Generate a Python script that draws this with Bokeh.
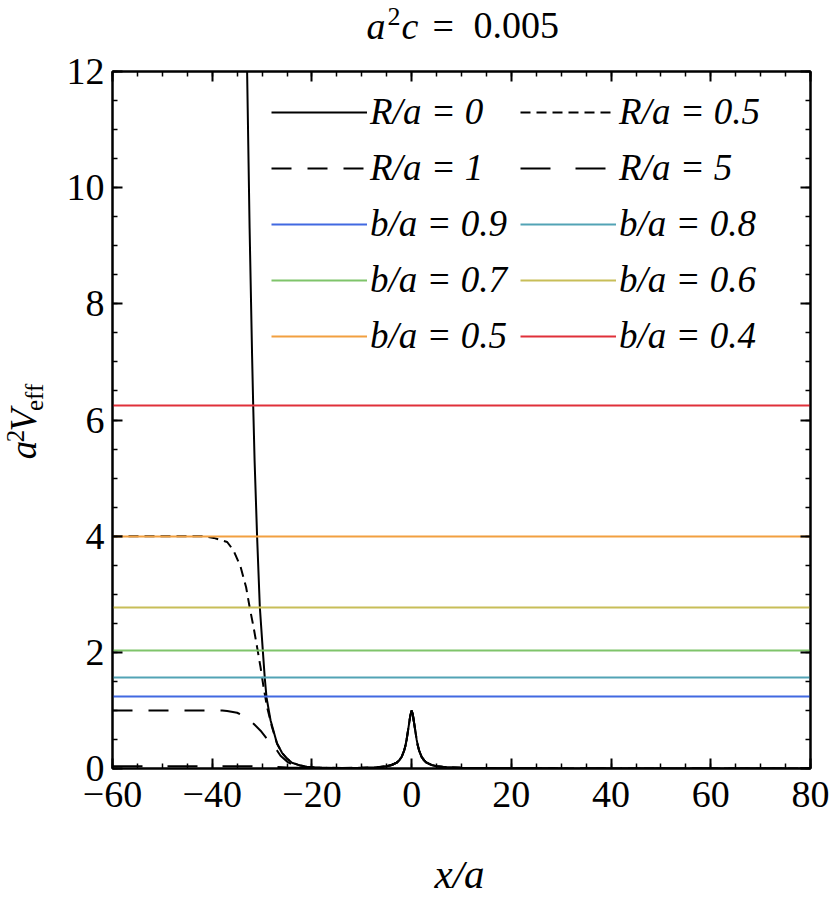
from math import pi
from bokeh.plotting import figure
from bokeh.models import Range1d, LinearAxis, SingleIntervalTicker
from bokeh.layouts import column, row
from bokeh.core.properties import value
from bokeh.embed import file_html
from bokeh.resources import INLINE

# ---------------- data ----------------
X_RANGE = (-60, 80)
Y_RANGE = (0, 12)
x_ticks = [-60, -40, -20, 0, 20, 40, 60, 80]
x_tick_labels = ["\u221260", "\u221240", "\u221220", "0", "20", "40", "60", "80"]
y_ticks = [0, 2, 4, 6, 8, 10, 12]
y_tick_labels = ["0", "2", "4", "6", "8", "10", "12"]

# shared central part (peak at x = 0 and right tail)
core_x = [-18, -14, -10, -7, -5, -4, -3, -2.5, -2, -1.5, -1.25, -1, -0.75, -0.5, -0.25, 0,
          0.25, 0.5, 0.75, 1, 1.25, 1.5, 2, 2.5, 3, 4, 5, 7, 10, 14, 20, 30, 50, 80]
core_v = [0.012, 0.01, 0.012, 0.02, 0.04, 0.06, 0.1, 0.14, 0.2, 0.31, 0.39, 0.5, 0.64, 0.78, 0.92, 1.0,
          0.92, 0.78, 0.64, 0.5, 0.39, 0.31, 0.2, 0.14, 0.1, 0.06, 0.04, 0.02, 0.012, 0.008, 0.004, 0.002, 0.0, 0.0]

# left wall of each curve
r0_x = [-33.0, -32.5, -32.0, -31.78, -31.5, -31.0, -30.45, -29.85, -29.45, -29.1, -28.3,
        -27.0, -26.0, -25.0, -24.0, -22.3, -21.0, -19.5]
r0_v = [12.0, 9.3, 7.1, 6.25, 5.3, 4.0, 2.78, 2.03, 1.55, 1.22, 0.83,
        0.43, 0.27, 0.17, 0.1, 0.05, 0.03, 0.018]

r05_x = [-60, -42, -39.7, -37.0, -35.7, -34.3, -33.2, -32.5, -31.7, -31.0, -30.3, -29.7,
         -29.0, -28.0, -27.0, -26.0, -25.0, -24.0, -22.3, -21.0, -19.5]
r05_v = [4.0, 4.0, 3.97, 3.9, 3.75, 3.47, 3.12, 2.78, 2.43, 2.09, 1.74, 1.4,
         1.06, 0.71, 0.43, 0.27, 0.17, 0.1, 0.05, 0.03, 0.018]

r1_x = [-60, -38, -37.0, -35.0, -33.0, -31.7, -30.3, -29.0, -27.9, -27.0, -26.3, -25.0,
        -24.0, -22.3, -21.0, -19.5]
r1_v = [1.0, 1.0, 0.99, 0.96, 0.87, 0.77, 0.65, 0.51, 0.4, 0.31, 0.22, 0.12,
        0.07, 0.04, 0.025, 0.015]

r5_x = [-60, -32, -29, -27, -25, -23, -21]
r5_v = [0.04, 0.04, 0.036, 0.026, 0.016, 0.012, 0.012]

R_labels = ["R/a = 0", "R/a = 0.5", "R/a = 1", "R/a = 5"]
R_dashes = ["solid", "10 6", "20 16", "30 25"]

b_labels = ["b/a = 0.9", "b/a = 0.8", "b/a = 0.7", "b/a = 0.6", "b/a = 0.5", "b/a = 0.4"]
b_levels = [1.235, 1.5625, 2.04, 2.78, 4.0, 6.25]
b_colors = ["#4169E1", "#52A3B5", "#7FC46A", "#C8BE58", "#F2A040", "#E0303A"]

SERIF = "Liberation Serif"

# ---------------- page layout (pixels) ----------------
PAGE_W = 830
TITLE_H = 46                      # page y 0..46
YLAB_W = 58
MAIN_H = 780                      # 25 + 697 + 58  -> page y 46..826
XLAB_H = 78                       # page y 826..904

# ---------------- main figure ----------------
p = figure(frame_width=698, frame_height=697,
           x_range=Range1d(*X_RANGE), y_range=Range1d(*Y_RANGE),
           output_backend="svg", toolbar_location=None,
           min_border_left=54, min_border_right=20,
           min_border_top=25, min_border_bottom=58)
p.xgrid.visible = False
p.ygrid.visible = False
p.outline_line_color = "black"
p.outline_line_width = 2
p.background_fill_color = "white"
p.border_fill_color = "white"


def style_axis(ax, show_labels):
    ax.major_tick_in = 10
    ax.major_tick_out = 0
    ax.minor_tick_in = 5
    ax.minor_tick_out = 0
    ax.axis_line_width = 2
    ax.axis_line_color = "black"
    ax.major_tick_line_width = 2
    ax.minor_tick_line_width = 1.5
    ax.major_tick_line_color = "black"
    ax.minor_tick_line_color = "black"
    ax.major_label_text_font = SERIF
    if show_labels:
        ax.major_label_text_font_size = "38px"
        ax.major_label_text_color = "black"
    else:
        ax.major_label_text_color = None
        ax.major_label_text_font_size = "1px"
        ax.major_label_standoff = 0


p.xaxis[0].ticker = SingleIntervalTicker(interval=20, num_minor_ticks=4)
p.yaxis[0].ticker = SingleIntervalTicker(interval=2, num_minor_ticks=4)
style_axis(p.xaxis[0], True)
style_axis(p.yaxis[0], True)
p.xaxis[0].major_label_overrides = {float(k): v for k, v in zip(x_ticks, x_tick_labels)}
p.yaxis[0].major_label_overrides = {float(k): v for k, v in zip(y_ticks, y_tick_labels)}
p.xaxis[0].major_label_standoff = 13
p.yaxis[0].major_label_standoff = 8

top_ax = LinearAxis(ticker=SingleIntervalTicker(interval=20, num_minor_ticks=4))
right_ax = LinearAxis(ticker=SingleIntervalTicker(interval=2, num_minor_ticks=4))
style_axis(top_ax, False)
style_axis(right_ax, False)
p.add_layout(top_ax, "above")
p.add_layout(right_ax, "right")

# curves
lefts = [(r0_x, r0_v), (r05_x, r05_v), (r1_x, r1_v), (r5_x, r5_v)]
for (lx, lv), lab, dash in zip(lefts, R_labels, R_dashes):
    xs = list(lx) + core_x
    vs = list(lv) + core_v
    p.line(xs, vs, line_color="black", line_width=2, line_dash=dash, legend_label=lab)

for lev, lab, col in zip(b_levels, b_labels, b_colors):
    p.hspan(y=[lev], line_color=col, line_width=2, legend_label=lab)

# legend
leg = p.legend[0]
leg.orientation = "horizontal"
leg.ncols = 2
leg.location = (159, 411)
leg.padding = 0
leg.margin = 0
leg.spacing = 13
leg.glyph_width = 96
leg.glyph_height = 42
leg.label_height = 42
leg.label_standoff = 3
leg.label_text_font = SERIF
leg.label_text_font_style = "italic"
leg.label_text_font_size = "37px"
leg.label_text_color = "black"
leg.border_line_color = None
leg.background_fill_alpha = 0


# ---------------- text figures (data units = pixels) ----------------
def text_fig(w, h):
    f = figure(width=w, height=h, x_range=Range1d(0, w), y_range=Range1d(0, h),
               x_axis_type=None, y_axis_type=None, output_backend="svg",
               toolbar_location=None, min_border=0, title=None)
    f.outline_line_color = None
    f.xgrid.visible = False
    f.ygrid.visible = False
    f.border_fill_color = "white"
    f.background_fill_color = "white"
    return f


def piece(f, text, x, y, size, style="normal", angle=0.0):
    f.text(x=[x], y=[y], text=[text], text_font=value(SERIF), text_font_size=value(size),
           text_font_style=style, text_color="black", text_align="left",
           text_baseline="alphabetic", angle=angle)


# title  a^2 c = 0.005
tf = text_fig(PAGE_W, TITLE_H)
piece(tf, "a", 366, TITLE_H - 38 + 13, "38px", "italic")
piece(tf, "2", 387, TITLE_H - 24 + 8, "26px")
piece(tf, "c", 401, TITLE_H - 38 + 13, "38px", "italic")
piece(tf, "=", 432, TITLE_H - 38 + 13, "38px")
piece(tf, "0.005", 473, TITLE_H - 38 + 13, "38px")

# y label  a^2 V_eff (rotated)
yf = text_fig(YLAB_W, MAIN_H)
YB = TITLE_H + MAIN_H
piece(yf, "a", 23, YB - 480, "37px", "italic", pi / 2)
piece(yf, "2", 15, YB - 461, "25px", "normal", pi / 2)
piece(yf, "V", 23, YB - 449, "37px", "italic", pi / 2)
piece(yf, "eff", 34, YB - 426, "25px", "normal", pi / 2)

# x label  x/a
xf = text_fig(PAGE_W, XLAB_H)
XB = TITLE_H + MAIN_H + XLAB_H
piece(xf, "x/a", 434, XB - 889 + 16, "41px", "italic")

layout = column(tf, row(yf, p), xf)
open("out.html", "w").write(file_html(layout, INLINE))
